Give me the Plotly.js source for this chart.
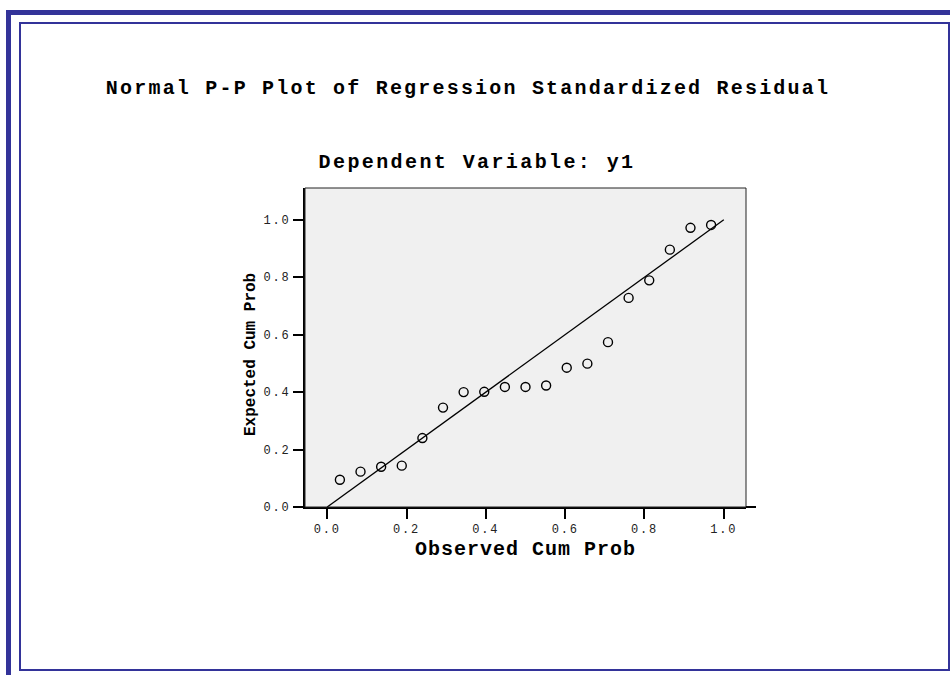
<!DOCTYPE html>
<html>
<head>
<meta charset="utf-8">
<script src="https://cdn.plot.ly/plotly-3.0.1.min.js"></script>
<style>
html,body{margin:0;padding:0;background:#fff;}
#chart{width:950px;height:675px;}
</style>
</head>
<body>
<div id="chart"></div>
<script>
// Observed cumulative probabilities (x) and expected cumulative probabilities (y)
var observedCumProb = [0.032, 0.084, 0.136, 0.188, 0.240, 0.292, 0.344, 0.396, 0.448, 0.500,
                       0.552, 0.604, 0.656, 0.708, 0.760, 0.812, 0.864, 0.916, 0.968];
var expectedCumProb = [0.095, 0.123, 0.140, 0.144, 0.240, 0.346, 0.400, 0.401, 0.418, 0.418,
                       0.423, 0.485, 0.499, 0.574, 0.728, 0.789, 0.896, 0.972, 0.982];
// Reference diagonal
var refLineX = [0, 1];
var refLineY = [0, 1];
var tickVals = [0, 0.2, 0.4, 0.6, 0.8, 1.0];
var tickText = ["0.0", "0.2", "0.4", "0.6", "0.8", "1.0"];

var titleText = "Normal P-P Plot of Regression Standardized Residual";
var subtitleText = "Dependent Variable: y1";
var xTitleText = "Observed Cum Prob";
var yTitleText = "Expected Cum Prob";

var W = 950, H = 675;
var L = 305, R = 746, T = 188, B = 507;
function px(x){ return (x - L) / (R - L); }
function py(y){ return (B - y) / (B - T); }
var blue = "#333399";
function rect(x0, y0, x1, y1, col){
  return {type:"rect", xref:"paper", yref:"paper", x0:px(x0), x1:px(x1), y0:py(y1), y1:py(y0),
          fillcolor:col, line:{width:0}, layer:"above"};
}

var mono = "Liberation Mono, Courier New, monospace";

var traces = [
  {x: refLineX, y: refLineY, mode: "lines", type: "scatter",
   line: {color: "#000", width: 1.3}, hoverinfo: "skip", showlegend: false},
  {x: observedCumProb, y: expectedCumProb, mode: "markers", type: "scatter",
   marker: {symbol: "circle-open", size: 9, color: "#000", line: {width: 1.4, color: "#000"}},
   showlegend: false}
];

var layout = {
  width: W, height: H,
  margin: {l: L, r: W - R, t: T, b: H - B, pad: 0},
  paper_bgcolor: "#fff",
  plot_bgcolor: "#f0f0f0",
  showlegend: false,
  title: {text: "<b>" + titleText + "</b>", xref: "container", yref: "container",
          x: 468 / W, y: 1 - 87 / H, xanchor: "center", yanchor: "middle",
          font: {family: mono, size: 20, color: "#000"}},
  xaxis: {range: [-0.056, 1.056], tickvals: tickVals, ticktext: tickText,
          showgrid: false, zeroline: false, showline: true, linecolor: "#000", linewidth: 2,
          ticks: "outside", ticklen: 10, tickwidth: 2, tickcolor: "#000",
          tickfont: {family: mono, size: 12, color: "#222"},
          title: {text: "<b>" + xTitleText + "</b>", standoff: 5,
                  font: {family: mono, size: 20, color: "#000"}},
          fixedrange: true},
  yaxis: {range: [0, 1.1106], tickvals: tickVals, ticktext: tickText,
          showgrid: false, zeroline: false, showline: true, linecolor: "#000", linewidth: 2,
          ticks: "outside", ticklen: 10, tickwidth: 2, tickcolor: "#000",
          tickfont: {family: mono, size: 12, color: "#222"},
          fixedrange: true},
  annotations: [
    {text: "<b>" + subtitleText + "</b>", xref: "paper", yref: "paper",
     x: px(477), y: py(162), xanchor: "center", yanchor: "middle", showarrow: false,
     font: {family: mono, size: 20, color: "#000"}},
    {text: "<b>" + yTitleText + "</b>", xref: "paper", yref: "paper",
     x: px(251), y: py(355), xanchor: "center", yanchor: "middle", showarrow: false,
     textangle: -90, font: {family: mono, size: 16, color: "#000"}}
  ],
  shapes: [
    // plot frame
    {type: "rect", xref: "paper", yref: "paper", x0: 0, x1: 1, y0: 0, y1: 1,
     line: {color: "#222", width: 1}, layer: "above"},
    // x-axis line extension past the frame
    {type: "line", xref: "paper", yref: "paper", x0: 1, x1: px(756), y0: 0, y1: 0,
     line: {color: "#000", width: 2}, layer: "above"},
    // outer thick border
    rect(6, 10, 11, 675, blue),
    rect(6, 10, 950, 15, blue),
    // inner thin border
    rect(19, 22, 21, 671, blue),
    rect(19, 22, 950, 24, blue),
    rect(948, 22, 950, 671, blue),
    rect(19, 669, 950, 671, blue)
  ]
};

Plotly.newPlot("chart", traces, layout, {displayModeBar: false, staticPlot: true}).then(function(gd){
  function spacing(sel, v){
    gd.querySelectorAll(sel).forEach(function(el){ el.style.letterSpacing = v; });
  }
  spacing(".gtitle", "2.2px");
  var ann = gd.querySelectorAll(".annotation-text");
  if (ann.length > 0) ann[0].style.letterSpacing = "2.4px";
  spacing(".g-xtitle text", "1px");
  spacing(".xtick text", "1.8px");
  spacing(".ytick text", "1.8px");
});
</script>
</body>
</html>
